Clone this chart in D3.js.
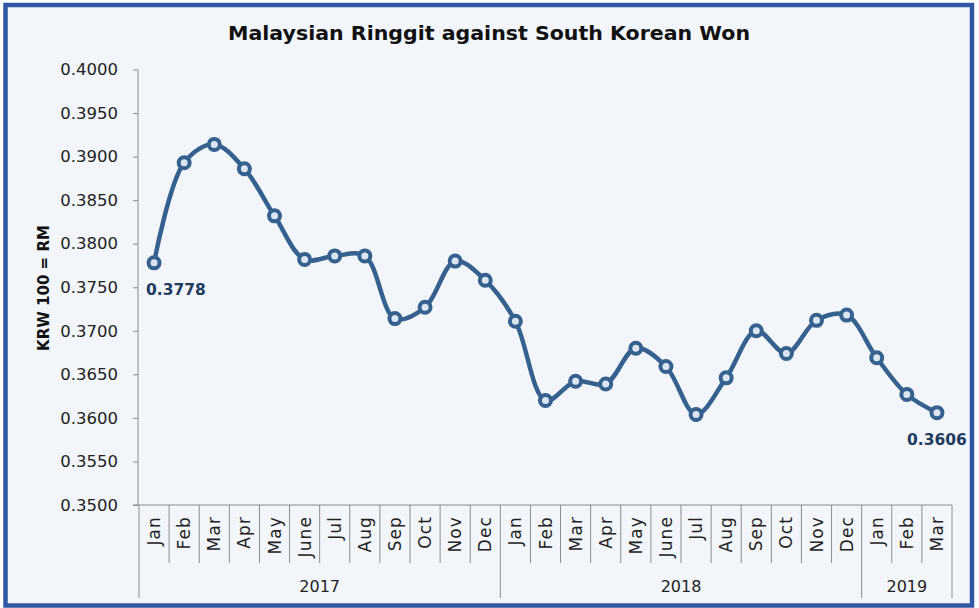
<!DOCTYPE html>
<html>
<head>
<meta charset="utf-8">
<script src="https://cdn.jsdelivr.net/npm/d3@7"></script>
<style>
  body { margin: 0; background: #ffffff; }
  text { font-family: "DejaVu Sans", sans-serif; }
</style>
</head>
<body>
<div id="chart"></div>
<script>
// Data
const months = ["Jan","Feb","Mar","Apr","May","June","Jul","Aug","Sep","Oct","Nov","Dec",
                "Jan","Feb","Mar","Apr","May","June","Jul","Aug","Sep","Oct","Nov","Dec",
                "Jan","Feb","Mar"];
const years = ["2017", "2018", "2019"];
const monthsPerYear = [12, 12, 3];
const rates = [0.3778, 0.3893, 0.3914, 0.3886, 0.3832, 0.3782, 0.3786, 0.3786, 0.3714, 0.3727, 0.3780, 0.3758,
               0.3711, 0.3620, 0.3642, 0.3639, 0.3680, 0.3659, 0.3604, 0.3646, 0.3700, 0.3674, 0.3712, 0.3718,
               0.3669, 0.3627, 0.3606];
const yTicks = [0.3500, 0.3550, 0.3600, 0.3650, 0.3700, 0.3750, 0.3800, 0.3850, 0.3900, 0.3950, 0.4000];
const labelled = [0, 26];

const width = 979;
const height = 608;
const blue = "#36618f";
const axisGrey = "#8c8c8c";

let svg = d3.select("#chart")
    .append("svg")
    .attr("width", width)
    .attr("height", height);

// Panel with border
svg.append("rect")
    .attr("x", 5.5).attr("y", 5)
    .attr("width", 966.5).attr("height", 600.5)
    .attr("fill", "#f2f6fb")
    .attr("stroke", "#2f57a3")
    .attr("stroke-width", 4.5);

// Title
svg.append("text")
    .attr("x", 489).attr("y", 40)
    .attr("text-anchor", "middle")
    .attr("font-size", 20)
    .attr("font-weight", "bold")
    .attr("fill", "#111")
    .attr("textLength", 522)
    .attr("lengthAdjust", "spacingAndGlyphs")
    .text("Malaysian Ringgit against South Korean Won");

// Scales
let keys = months.map((m, i) => i);
let xScale = d3.scaleBand()
    .domain(keys)
    .range([139, 952]);

let yScale = d3.scaleLinear()
    .domain([0.35, 0.40])
    .range([505, 69.5]);

// Y axis
let yAxis = svg.append("g")
    .attr("transform", "translate(138,0)")
    .call(d3.axisLeft(yScale).tickValues(yTicks).tickFormat(d3.format(".4f")).tickSize(5).tickPadding(15));
yAxis.select(".domain").attr("stroke", axisGrey).attr("d", "M0,69.5V505");
yAxis.selectAll(".tick line").attr("stroke", axisGrey);
yAxis.selectAll(".tick text")
    .attr("font-size", 16.5)
    .attr("fill", "#222")
    .style("font-family", "'DejaVu Sans', sans-serif");

// Y axis title
svg.append("text")
    .attr("transform", "translate(49,288) rotate(-90)")
    .attr("text-anchor", "middle")
    .attr("font-size", 15)
    .attr("font-weight", "bold")
    .attr("fill", "#111")
    .text("KRW 100 = RM");

// X axis line
svg.append("line")
    .attr("x1", 133).attr("x2", 952)
    .attr("y1", yScale(0.35)).attr("y2", yScale(0.35))
    .attr("stroke", axisGrey);

// Month and year separators
let step = xScale.step();
let x0 = xScale.range()[0];
let yearStarts = [0];
monthsPerYear.forEach((n, i) => yearStarts.push(yearStarts[i] + n));

svg.append("g")
    .selectAll("line")
    .data(d3.range(months.length + 1))
    .join("line")
    .attr("x1", i => x0 + i * step)
    .attr("x2", i => x0 + i * step)
    .attr("y1", yScale(0.35))
    .attr("y2", i => yearStarts.includes(i) ? 598 : 563)
    .attr("stroke", axisGrey);

// Month labels
svg.append("g")
    .selectAll("text")
    .data(months)
    .join("text")
    .attr("transform", (d, i) => "translate(" + (xScale(i) + xScale.bandwidth() / 2 + 6) + ",516) rotate(-90)")
    .attr("text-anchor", "end")
    .attr("font-size", 17)
    .attr("letter-spacing", 1.1)
    .attr("fill", "#222")
    .text(d => d);

// Year labels
svg.append("g")
    .selectAll("text")
    .data(years)
    .join("text")
    .attr("x", (d, i) => x0 + (yearStarts[i] + monthsPerYear[i] / 2) * step)
    .attr("y", 592)
    .attr("text-anchor", "middle")
    .attr("font-size", 16)
    .attr("fill", "#222")
    .text(d => d);

// Line
let line = d3.line()
    .x((d, i) => xScale(i) + xScale.bandwidth() / 2)
    .y(d => yScale(d))
    .curve(d3.curveCatmullRom.alpha(0.5));

svg.append("path")
    .datum(rates)
    .attr("fill", "none")
    .attr("stroke", blue)
    .attr("stroke-width", 4.5)
    .attr("d", line);

// Markers
svg.append("g")
    .selectAll("circle")
    .data(rates)
    .join("circle")
    .attr("cx", (d, i) => xScale(i) + xScale.bandwidth() / 2)
    .attr("cy", d => yScale(d))
    .attr("r", 5.5)
    .attr("fill", "#dce6f2")
    .attr("stroke", blue)
    .attr("stroke-width", 4);

// Data labels
svg.append("g")
    .selectAll("text")
    .data(labelled)
    .join("text")
    .attr("x", i => xScale(i) + xScale.bandwidth() / 2 + (i === 0 ? -8 : 0))
    .attr("y", i => yScale(rates[i]) + 32)
    .attr("text-anchor", i => i === 0 ? "start" : "middle")
    .attr("font-size", 15.5)
    .attr("font-weight", "bold")
    .attr("fill", "#1f3b5e")
    .text(i => rates[i].toFixed(4));
</script>
</body>
</html>
